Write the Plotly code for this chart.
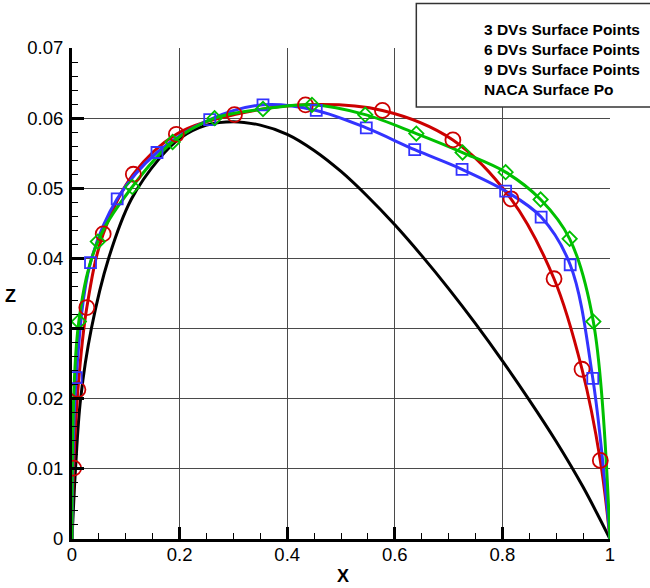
import plotly.graph_objects as go

# ---------------- data ----------------
# each series starts at the leading edge (0,0) and ends at the trailing edge (1,0);
# markers are drawn on the interior points only
dv3_x = [0.0, 0.003, 0.011, 0.0275, 0.058, 0.114, 0.194, 0.302, 0.434, 0.577, 0.708, 0.816, 0.896, 0.948, 0.982, 1.0]
dv3_z = [0.0, 0.0101, 0.0213, 0.0330, 0.0435, 0.0520, 0.0577, 0.0605, 0.0619, 0.0611, 0.0569, 0.0485, 0.0371, 0.0242, 0.0112, 0.0]

dv6_x = [0.0, 0.0078, 0.0344, 0.084, 0.158, 0.256, 0.355, 0.454, 0.547, 0.637, 0.725, 0.806, 0.872, 0.926, 0.968, 1.0]
dv6_z = [0.0, 0.0230, 0.0394, 0.0485, 0.0551, 0.0598, 0.0619, 0.0611, 0.0586, 0.0555, 0.0527, 0.0496, 0.0459, 0.0391, 0.0229, 0.0]

dv9_x = [0.0, 0.0127, 0.048, 0.112, 0.187, 0.265, 0.355, 0.446, 0.545, 0.640, 0.726, 0.806, 0.871, 0.925, 0.969, 1.0]
dv9_z = [0.0, 0.0310, 0.0424, 0.0502, 0.0566, 0.0600, 0.0613, 0.0619, 0.0605, 0.0578, 0.0551, 0.0523, 0.0484, 0.0428, 0.0310, 0.0]

naca_x = [0.0, 0.0065, 0.016, 0.036, 0.068, 0.11, 0.163, 0.2, 0.25, 0.3, 0.35, 0.4, 0.45, 0.5, 0.55,
          0.6, 0.65, 0.7, 0.75, 0.8, 0.85, 0.9, 0.95, 1.0]
naca_z = [0.0, 0.010, 0.020, 0.030, 0.040, 0.0484, 0.0543, 0.0571, 0.0590, 0.0595, 0.0590, 0.0577, 0.0554,
          0.0524, 0.0488, 0.0448, 0.0404, 0.0357, 0.0307, 0.0254, 0.0198, 0.0139, 0.0074, 0.0]

x_ticks = [0, 0.2, 0.4, 0.6, 0.8, 1.0]
x_tick_labels = ["0", "0.2", "0.4", "0.6", "0.8", "1"]
z_ticks = [0, 0.01, 0.02, 0.03, 0.04, 0.05, 0.06, 0.07]
z_tick_labels = ["0", "0.01", "0.02", "0.03", "0.04", "0.05", "0.06", "0.07"]

legend_labels = ["3 DVs Surface Points", "6 DVs Surface Points", "9 DVs Surface Points", "NACA Surface Po"]

# ---------------- figure ----------------
FONT = "Liberation Sans, Arial, Helvetica, sans-serif"
RED, BLUE, GREEN = "#CC0000", "#3333FF", "#00C000"

fig = go.Figure()

fig.add_trace(go.Scatter(x=naca_x, y=naca_z, mode="lines",
                         line=dict(color="black", width=3, shape="spline", smoothing=1.0),
                         showlegend=False, hoverinfo="skip"))

series = [
    (dv3_x, dv3_z, RED, "circle-open", 15),
    (dv6_x, dv6_z, BLUE, "square-open", 11),
    (dv9_x, dv9_z, GREEN, "diamond-open", 11),
]
for xs, zs, col, sym, sz in series:
    fig.add_trace(go.Scatter(x=xs, y=zs, mode="lines",
                             line=dict(color=col, width=3, shape="spline", smoothing=1.0),
                             showlegend=False, hoverinfo="skip"))
for xs, zs, col, sym, sz in series:
    fig.add_trace(go.Scatter(x=xs[1:-1], y=zs[1:-1], mode="markers",
                             marker=dict(symbol=sym, size=sz, color=col,
                                         line=dict(color=col, width=1.8)),
                             showlegend=False, hoverinfo="skip"))

axis_common = dict(
    showline=True, linecolor="black", linewidth=3, mirror=False,
    showgrid=True, gridcolor="#4a4a4a", gridwidth=1, zeroline=False,
    ticks="inside", ticklen=12, tickwidth=3, tickcolor="black",
    tickfont=dict(family=FONT, size=18.5, color="black"),
)

fig.update_layout(
    width=650, height=588,
    margin=dict(l=72, r=40, t=48, b=49),
    paper_bgcolor="white", plot_bgcolor="white",
    showlegend=False,
    xaxis=dict(range=[0, 1], tickvals=x_ticks, ticktext=x_tick_labels,
               ticklabelstandoff=-3,
               minor=dict(dtick=0.05, ticks="inside", ticklen=6, tickwidth=1,
                          tickcolor="black", showgrid=False),
               **axis_common),
    yaxis=dict(range=[0, 0.07], tickvals=z_ticks, ticktext=z_tick_labels,
               ticklabelstandoff=2,
               minor=dict(dtick=0.002, ticks="inside", ticklen=6, tickwidth=1,
                          tickcolor="black", showgrid=False),
               **axis_common),
)

# legend box (text only, as in the reference)
fig.add_shape(type="rect", xref="paper", yref="paper",
              x0=0.640, x1=1.08, y0=0.880, y1=1.0907,
              line=dict(color="#333333", width=1.5), fillcolor="white", layer="above")
fig.add_annotation(xref="paper", yref="paper", x=0.7615, y=0.977,
                   xanchor="left", yanchor="middle", align="left", showarrow=False,
                   text="<br>".join("<b>%s</b>" % s for s in legend_labels),
                   font=dict(family=FONT, size=15.5, color="black"))

# axis titles (Z is upright in the reference)
fig.add_annotation(xref="paper", yref="paper", x=(343 - 72) / 538, y=(539.4 - 576) / 491,
                   xanchor="center", yanchor="middle", showarrow=False,
                   text="<b>X</b>", font=dict(family=FONT, size=18, color="black"))
fig.add_annotation(xref="paper", yref="paper", x=(10 - 72) / 538, y=(539.4 - 296) / 491,
                   xanchor="center", yanchor="middle", showarrow=False,
                   text="<b>Z</b>", font=dict(family=FONT, size=18, color="black"))

fig.write_html("out.html", config={"displayModeBar": False},
               post_script="document.body.style.margin='0';")
